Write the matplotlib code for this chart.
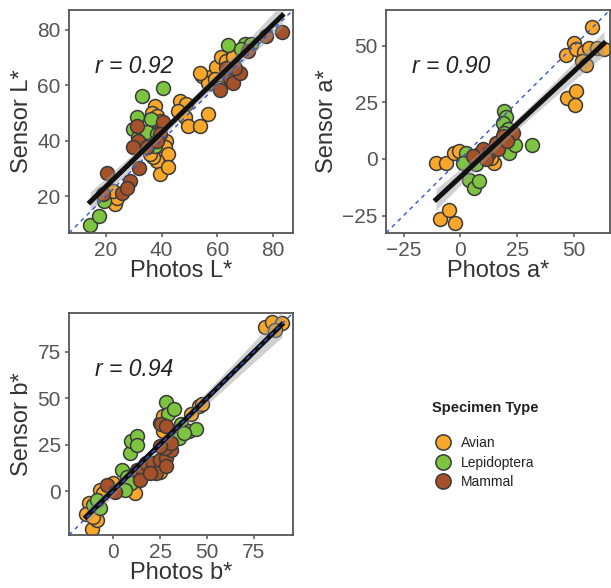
"""
Sensor vs photo colour scatter panels (L*, a*, b*)
"""

import matplotlib
matplotlib.use('Agg')

import numpy as np
import matplotlib.pyplot as plt
from matplotlib.lines import Line2D

# ---- data ----
# L* panel
L_avian_x = [23.2, 23.8, 22.6, 37.6, 36.4, 38.2, 39.4, 41.7, 41.1, 42.3, 38.2, 39.4, 42.3, 37.0,
             46.5, 48.9, 45.9, 48.4, 49.5, 53.7, 56.7, 54.6, 57.3, 59.6, 61.4, 63.3, 65.6, 56.7,
             59.0, 60.9, 53.7, 39.4, 35.8]
L_avian_y = [17.1, 19.5, 21.9, 52.6, 50.2, 49.0, 44.8, 40.0, 37.6, 35.2, 32.8, 27.9, 30.6, 34.0,
             54.4, 53.2, 50.8, 48.4, 45.4, 45.4, 49.8, 63.4, 63.0, 66.5, 70.1, 68.9, 70.1, 61.0,
             62.2, 59.2, 64.3, 47.2, 35.2]
L_lepi_x = [14.3, 17.5, 19.4, 32.8, 40.6, 31.0, 36.0, 29.8, 31.6, 34.6, 38.2, 37.6, 63.8, 69.8,
            68.7, 72.2]
L_lepi_y = [9.7, 12.9, 18.3, 56.2, 59.0, 48.4, 47.8, 44.2, 41.2, 43.0, 42.4, 38.2, 74.6, 74.9,
            73.0, 74.9]
L_mamm_x = [20.5, 19.0, 25.6, 28.6, 27.4, 31.7, 31.6, 34.6, 29.8, 31.0, 40.6, 39.4, 38.2, 60.9,
            64.4, 65.6, 68.0, 66.2, 63.3, 71.0, 77.6, 83.3]
L_mamm_y = [28.5, 20.7, 21.3, 25.5, 23.1, 30.3, 40.0, 37.6, 37.6, 45.4, 46.6, 42.4, 40.0, 58.3,
            62.8, 61.0, 64.6, 66.4, 66.4, 72.5, 77.9, 79.1]

# a* panel
a_avian_x = [-10.7, -6.3, -2.7, -0.5, -9.2, -5.2, -2.2, 14.8, 13.4, 46.2, 49.9, 50.6, 54.2, 57.9,
             56.4, 60.1, 63.0, 53.5, 46.9, 50.6, 50.3, 8.3, 55.0]
a_avian_y = [-1.7, -1.7, 2.5, 3.5, -26.5, -22.6, -28.3, -1.7, 0.5, 45.9, 51.0, 48.5, 47.0, 58.1,
             48.8, 48.8, 48.5, 43.4, 26.7, 30.1, 23.7, 2.0, 41.5]
a_lepi_x = [2.4, 1.0, 6.8, 3.9, 6.1, 8.3, 19.2, 19.9, 18.5, 20.7, 21.4, 24.0, 31.6, 19.2]
a_lepi_y = [2.5, -1.7, -2.4, -9.1, -12.7, -9.8, 21.2, 18.3, 16.0, 13.1, 2.8, 6.0, 6.0, 11.6]
a_mamm_x = [9.7, 12.6, 15.5, 18.5, 22.9, 5.4, 11.2, 16.5, 20.5]
a_mamm_y = [4.2, 2.8, 7.2, 10.1, 11.6, 1.3, -0.2, 4.5, 8.0]

# b* panel
b_avian_x = [-13.2, -14.5, -11.5, -8.8, -10.6, -7.0, -5.3, 0.0, 11.5, 24.7, 24.7, 26.5, 45.9,
             47.6, 41.5, 81.2, 84.7, 90.0, 86.5, 26.5]
b_avian_y = [-6.7, -12.2, -20.3, -15.8, -14.0, 0.5, -1.3, 4.2, -1.3, 10.5, 36.9, 32.3, 45.9,
             46.8, 41.4, 88.6, 91.3, 90.4, 86.8, 40.5]
b_lepi_x = [-10.6, -7.0, -8.8, 8.8, 4.4, 7.1, 9.7, 6.2, 9.7, 12.4, 12.4, 28.2, 29.1, 32.6, 36.2,
            35.3, 40.6, 44.1, 37.9]
b_lepi_y = [-7.6, -9.4, -4.9, 20.5, 11.4, 7.8, 4.2, 0.5, 26.9, 29.6, 25.1, 47.8, 41.4, 44.1, 36.0,
            28.7, 32.3, 33.2, 31.4]
b_mamm_x = [-3.5, 0.9, 12.4, 15.9, 17.6, 21.2, 24.7, 28.2, 30.9, 27.4, 30.9, 24.7, 22.9, 28.2,
            14.1, 19.4, 25.6, 28.2]
b_mamm_y = [3.3, -0.4, 11.4, 11.4, 15.1, 15.1, 16.9, 17.8, 22.3, 23.2, 26.0, 24.2, 9.6, 13.3,
            6.0, 9.6, 36.0, 35.0]

species = ['Avian', 'Lepidoptera', 'Mammal']
colors = ['#F9A72B', '#7DC540', '#A5522A']
r_labels = ['r = 0.92', 'r = 0.90', 'r = 0.94']
xlabels = ['Photos L*', 'Photos a*', 'Photos b*']
ylabels = ['Sensor L*', 'Sensor a*', 'Sensor b*']
limits = [(6.7, 87.2), (-32.7, 65.7), (-23.7, 96.0)]
ticks = [[20, 40, 60, 80], [-25, 0, 25, 50], [0, 25, 50, 75]]

panels = [
    [(L_avian_x, L_avian_y), (L_lepi_x, L_lepi_y), (L_mamm_x, L_mamm_y)],
    [(a_avian_x, a_avian_y), (a_lepi_x, a_lepi_y), (a_mamm_x, a_mamm_y)],
    [(b_avian_x, b_avian_y), (b_lepi_x, b_lepi_y), (b_mamm_x, b_mamm_y)],
]


def fit_band(x, y, xs):
    """Linear fit with a 95% confidence band for the mean."""
    n = len(x)
    slope, icpt = np.polyfit(x, y, 1)
    resid = y - (slope * x + icpt)
    s = np.sqrt(np.sum(resid ** 2) / (n - 2))
    se = s * np.sqrt(1 / n + (xs - x.mean()) ** 2 / np.sum((x - x.mean()) ** 2))
    yhat = slope * xs + icpt
    return yhat, 1.98 * se


def main():
    plt.rcParams['font.family'] = ['Liberation Sans', 'DejaVu Sans']

    my_dpi = 100
    fig = plt.figure(figsize=(611 / my_dpi, 588 / my_dpi), dpi=my_dpi)

    positions = [[0.1129, 0.6037, 0.3666, 0.3793],
                 [0.6318, 0.6037, 0.3666, 0.3793],
                 [0.1129, 0.0901, 0.3666, 0.3776]]

    for i, pos in enumerate(positions):
        ax = fig.add_axes(pos)
        groups = panels[i]
        for (gx, gy), name, col in zip(groups, species, colors):
            ax.scatter(gx, gy, s=100, color=col, edgecolor='#3a3a3a',
                       linewidth=1.1, zorder=2, label=name)

        allx = np.concatenate([np.array(g[0]) for g in groups])
        ally = np.concatenate([np.array(g[1]) for g in groups])
        xs = np.linspace(allx.min(), allx.max(), 100)
        yhat, band = fit_band(allx, ally, xs)
        ax.fill_between(xs, yhat - band, yhat + band, color='#999999',
                        alpha=0.45, lw=0, zorder=3)
        ax.plot(xs, yhat, color='#111111', lw=3.6, zorder=4)

        lo, hi = limits[i]
        ax.plot([lo, hi], [lo, hi], color='#3355cc', ls=(0, (3, 3)), lw=1.0, zorder=5)
        ax.set_xlim(lo, hi)
        ax.set_ylim(lo, hi)
        ax.set_xticks(ticks[i])
        ax.set_yticks(ticks[i])

        ax.text(0.115, 0.745, r_labels[i], transform=ax.transAxes, fontsize=16.5,
                style='italic', color='#222222', va='center')
        ax.set_xlabel(xlabels[i], fontsize=17, color='#333333', labelpad=0)
        ax.set_ylabel(ylabels[i], fontsize=17, color='#333333', labelpad=3)
        ax.tick_params(labelsize=15, colors='#555555', length=3, width=1.1, pad=3)
        for sp in ax.spines.values():
            sp.set_color('#555555')
            sp.set_linewidth(1.3)

    # legend, title drawn separately so it sits higher above the keys
    fig.text(432 / 611, 1 - 408 / 588, 'Specimen Type', fontsize=10.5,
             fontweight='bold', color='#222222', va='center', ha='left')
    handles = [Line2D([], [], ls='none', marker='o', markersize=11, markerfacecolor=c,
                      markeredgecolor='#3a3a3a', markeredgewidth=1.1, label=n)
               for n, c in zip(species, colors)]
    leg = fig.legend(handles=handles, loc='upper left', bbox_to_anchor=(436 / 611, 1 - 436 / 588),
                     frameon=False, fontsize=10, handlelength=1.0, handletextpad=0.8,
                     labelspacing=0.4, borderpad=0, borderaxespad=0)
    for t in leg.get_texts():
        t.set_color('#222222')

    plt.savefig('out.png', dpi=my_dpi)


if __name__ == "__main__":
    main()
